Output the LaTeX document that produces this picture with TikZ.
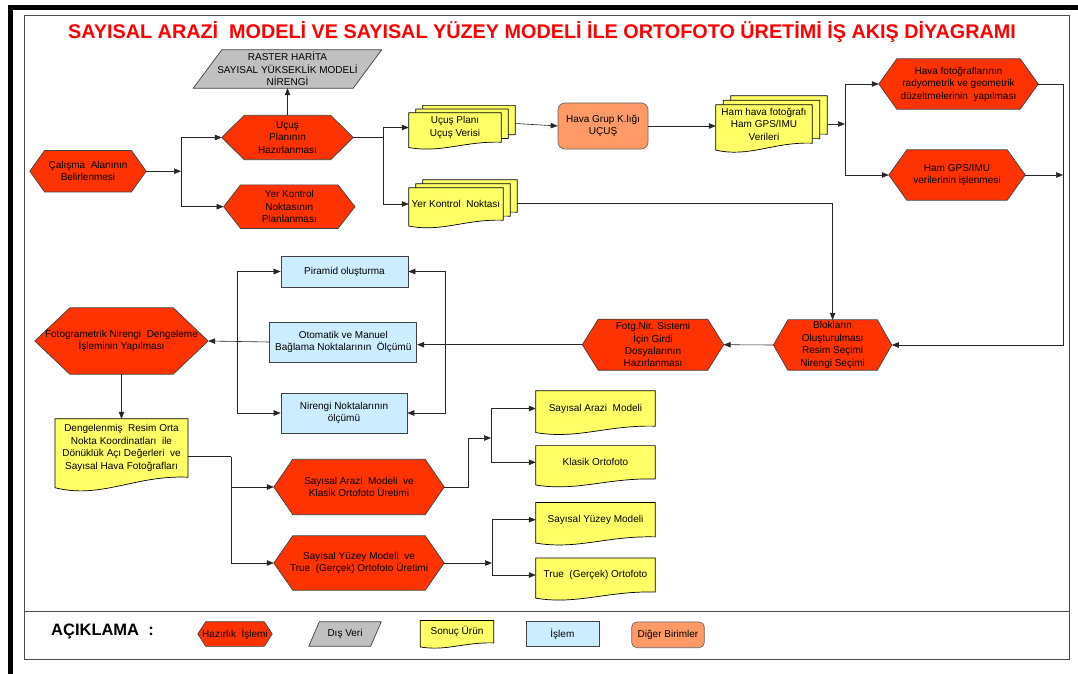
\documentclass[tikz,border=0pt]{standalone}
\usepackage{fontspec}
\setmainfont{Liberation Sans}
\usetikzlibrary{arrows.meta,calc,backgrounds}

\definecolor{hexred}{HTML}{FF3300}
\definecolor{docyellow}{HTML}{FFFF66}
\definecolor{datagray}{HTML}{C0C0C0}
\definecolor{procblue}{HTML}{CCECFF}
\definecolor{unitorange}{HTML}{FF9966}
\definecolor{titlered}{HTML}{FF0000}

% shapes drawn behind the text nodes
\newcommand{\hexbg}[2]{%
  \filldraw[fill=hexred, draw=black!75, line width=0.7pt] (#1.west) -- ([xshift=#2pt]#1.north west)
    -- ([xshift=-#2pt]#1.north east) -- (#1.east) -- ([xshift=-#2pt]#1.south east)
    -- ([xshift=#2pt]#1.south west) -- cycle;}
\newcommand{\parbg}[2]{%
  \filldraw[fill=datagray, draw=black!75, line width=0.7pt] (#1.south west) -- ([xshift=#2pt]#1.north west)
    -- (#1.north east) -- ([xshift=-#2pt]#1.south east) -- cycle;}
\newcommand{\docbg}[3]{%
  \filldraw[fill=docyellow, draw=black, line width=0.7pt]
    let \p1=($(#1.north west)+(#2pt,#3pt)$), \p2=($(#1.south east)+(#2pt,#3pt)$),
        \n1={\x2-\x1}, \n2={\y1-\y2} in
    (\x1,\y1) -- (\x2,\y1) -- (\x2,\y2)
    .. controls (\x1+0.6*\n1,\y2+0.04*\n2) and (\x1+0.35*\n1,\y2-0.38*\n2) .. (\x1,\y2-0.18*\n2) -- cycle;}
\newcommand{\stackbg}[3]{\docbg{#1}{2*#2}{2*#3}\docbg{#1}{#2}{#3}\docbg{#1}{0}{0}}

\begin{document}
\begin{tikzpicture}[x=1pt, y=-1pt,
    every node/.style={font=\fontsize{10}{12.4}\selectfont, inner sep=0pt, align=center},
    sz/.style 2 args={minimum width=#1pt, minimum height=#2pt},
    proc/.style={draw=black!75, fill=procblue, line width=0.7pt},
    unit/.style={draw=black!60, fill=unitorange, rounded corners=7pt, line width=0.7pt},
    lin/.style={draw=black!85, line width=0.6pt},
    arr/.style={lin, -{Triangle[length=7pt,width=5.5pt]}}]
\useasboundingbox (0,0) rectangle (1078,674);

% Frame
\draw[line width=5pt] (10.5,674) -- (10.5,7.5) -- (1078,7.5);
\draw[black!70, line width=0.8pt] (24,15) rectangle (1069,659);
\draw[black!70, line width=0.8pt] (24,611) -- (1069,611);

% Title
\node[font=\fontsize{19.8}{22}\selectfont\bfseries, text=titlered] (title) at (542,32)
  {SAYISAL ARAZİ~~MODELİ VE SAYISAL YÜZEY MODELİ İLE ORTOFOTO ÜRETİMİ İŞ AKIŞ DİYAGRAMI};

% Nodes
\node[sz={188}{38}] (raster) at (287.5,69) {RASTER HARİTA\\SAYISAL YÜKSEKLİK MODELİ\\NİRENGİ};
\node[sz={131}{44}] (ucus) at (287.5,137.5) {Uçuş\\Planının\\Hazırlanması};
\node[sz={116}{41}] (calisma) at (88,171.2) {Çalışma~~Alanının\\Belirlenmesi};
\node[sz={131}{43.3}] (yerplan) at (289.3,206.7) {Yer Kontrol\\Noktasının\\Planlanması};
\node[sz={92}{29}] (ucplan) at (455,127.5) {Uçuş Planı\\Uçuş Verisi};
\node[sz={94}{32}] (yerdoc) at (456,204) {Yer Kontrol~~Noktası};
\node[unit, sz={90}{46}] (hgk) at (603,126) {Hava Grup K.lığı\\UÇUŞ};
\node[sz={96}{38}] (hamdoc) at (764,124) {Ham hava fotoğrafı\\Ham GPS/IMU\\Verileri};
\node[sz={159}{50}] (havahex) at (958.5,84) {Hava fotoğraflarının\\radyometrik ve geometrik\\düzeltmelerinin~~yapılması};
\node[sz={136}{50}] (gpshex) at (957,175) {Ham GPS/IMU\\verilerinin işlenmesi};
\node[sz={118}{50}] (blok) at (832.6,345) {Blokların\\Oluşturulması\\Resim Seçimi\\Nirengi Seçimi};
\node[sz={141}{50.7}] (fotg) at (653,344.7) {Fotg.Nir. Sistemi\\İçin Girdi\\Dosyalarının\\Hazırlanması};
\node[proc, sz={127}{31}] (pir) at (344.5,271.5) {Piramid oluşturma};
\node[proc, sz={147}{40}] (otom) at (343.3,342) {Otomatik ve Manuel\\Bağlama Noktalarının~~Ölçümü};
\node[proc, sz={126}{40}] (nir) at (344,413) {Nirengi Noktalarının\\ölçümü};
\node[sz={173}{66}] (fotogram) at (121.5,341) {Fotogrametrik Nirengi~~Dengeleme\\İşleminin Yapılması};
\node[sz={132.7}{58}] (denge) at (121.5,448) {Dengelenmiş~~Resim Orta\\Nokta Koordinatları~~ile\\Dönüklük Açı Değerleri~~ve\\Sayısal Hava Fotoğrafları};
\node[sz={170}{55}] (sahex) at (359,487) {Sayısal Arazi~~Modeli~~ve\\Klasik Ortofoto Üretimi};
\node[sz={170}{54}] (syhex) at (359,563) {Sayısal Yüzey Modeli~~ve\\True~~(Gerçek) Ortofoto Üretimi};
\node[sz={119}{35}] (sam) at (595.5,408.5) {Sayısal Arazi~~Modeli};
\node[sz={119}{33}] (klasik) at (595.5,462.3) {Klasik Ortofoto};
\node[sz={119}{34}] (syzm) at (595.5,519.7) {Sayısal Yüzey Modeli};
\node[sz={119}{33.7}] (truedoc) at (595.5,575) {True~~(Gerçek) Ortofoto};

% Legend
\node[font=\fontsize{16.5}{18}\selectfont\bfseries] (legtitle) at (102.5,631) {AÇIKLAMA~~:};
\node[sz={74}{24.3}] (lhex) at (235,634) {Hazırlık~~İşlemi};
\node[sz={72}{24}] (lpar) at (345,634) {Dış Veri};
\node[sz={73}{22}] (ldoc) at (457,631.7) {Sonuç Ürün};
\node[proc, sz={73}{25}] (lbox) at (562.4,634.2) {İşlem};
\node[unit, rounded corners=5pt, sz={72.5}{25.7}] (lrnd) at (668,634.8) {Diğer Birimler};

% Junctions
\coordinate (j1) at (181,171.2);
\coordinate (j2) at (383,137.5);
\coordinate (j3) at (845,124);
\coordinate (rline) at (1063,200);
\coordinate (jr2) at (445,344.7);
\coordinate (jl2) at (237,342);
\coordinate (jd) at (231,456.7);
\coordinate (j5) at (491,438);
\coordinate (j6) at (492,563);

% Shapes
\begin{scope}[on background layer]
  \fill[white] (0,0) rectangle (1078,674);
  \parbg{raster}{28.5}
  \hexbg{ucus}{22.5}
  \hexbg{calisma}{14.8}
  \hexbg{yerplan}{17}
  \stackbg{ucplan}{7}{3.7}
  \stackbg{yerdoc}{7}{4}
  \stackbg{hamdoc}{7.5}{4.5}
  \hexbg{havahex}{18}
  \hexbg{gpshex}{18}
  \hexbg{blok}{14.5}
  \hexbg{fotg}{16}
  \hexbg{fotogram}{35}
  \docbg{denge}{0}{0}
  \hexbg{sahex}{19}
  \hexbg{syhex}{19}
  \docbg{sam}{0}{0}
  \docbg{klasik}{0}{0}
  \docbg{syzm}{0}{0}
  \docbg{truedoc}{0}{0}
  \hexbg{lhex}{8}
  \parbg{lpar}{10.5}
  \docbg{ldoc}{0}{0}
\end{scope}

% Links
\draw[arr] (ucus.north) -- (raster.south);
\draw[arr] (calisma.east) -- (j1);
\draw[arr] (j1) |- (ucus.west);
\draw[arr] (j1) |- (yerplan.west);
\draw[lin] (ucus.east) -- (j2);
\draw[arr] (j2) |- (ucplan.west);
\draw[arr] (j2) |- (yerdoc.west);
\draw[arr] ([xshift=14pt,yshift=4pt]ucplan.east) -- (hgk.west);
\draw[arr] (hgk.east) -- (hgk.east -| hamdoc.west);
\draw[arr] ([xshift=15pt]hamdoc.east) -- (j3);
\draw[arr] (j3) |- (havahex.west);
\draw[arr] (j3) |- (gpshex.west);
\draw[arr] (havahex.east) -| (rline) |- (blok.east);
\draw[arr] (gpshex.east) -- (gpshex.east -| rline);
\draw[arr] ([xshift=14pt,yshift=1pt]yerdoc.east) -| (blok.north);
\draw[arr] (blok.west) -- (fotg.east);
\draw[arr] (fotg.west) -- (fotg.west -| otom.east);
\draw[arr] (jr2) |- (pir.east);
\draw[arr] (jr2) |- (nir.east);
\draw[arr] (otom.west) -- (fotogram.east);
\draw[arr] (jl2) |- (pir.west);
\draw[arr] (jl2) |- (nir.west);
\draw[arr] (fotogram.south) -- (denge.north);
\draw[lin] ([yshift=-8.7pt]denge.east) -- (jd);
\draw[arr] (jd) |- (sahex.west);
\draw[arr] (jd) |- (syhex.west);
\draw[arr] (sahex.east) -- ++(24,0) |- (j5);
\draw[arr] (j5) |- (sam.west);
\draw[arr] (j5) |- (klasik.west);
\draw[arr] (syhex.east) -- (j6);
\draw[arr] (j6) |- (syzm.west);
\draw[arr] (j6) |- (truedoc.west);
\end{tikzpicture}
\end{document}
